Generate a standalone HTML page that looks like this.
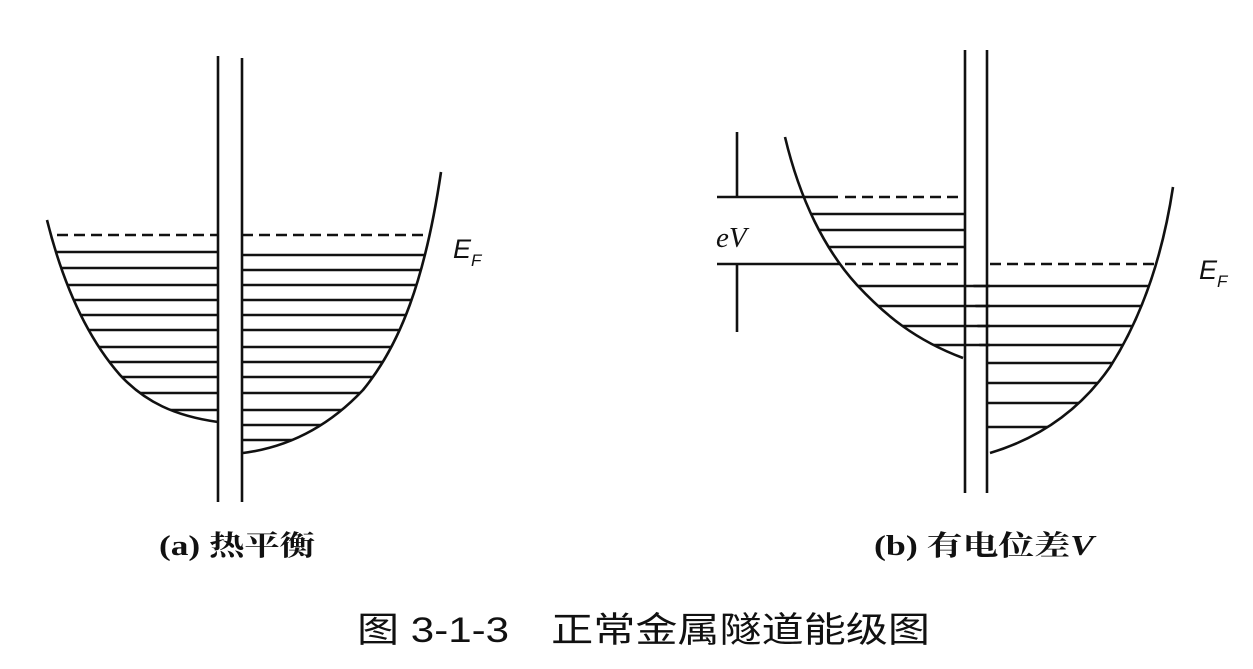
<!DOCTYPE html>
<html><head><meta charset="utf-8"><style>
html,body{margin:0;padding:0;background:#fff;}
svg{display:block;}
</style></head><body>
<svg width="1253" height="669" viewBox="0 0 1253 669" xmlns="http://www.w3.org/2000/svg">
<defs>
<clipPath id="aL"><path d="M47,220 C62,280 85,335 120,375 C145,402 175,416 218,422 L218,200 L40,200 Z"/></clipPath>
<clipPath id="aR"><path d="M243,453 C290,447 330,425 363,390 C400,345 425,280 441,172 L441,150 L243,150 Z"/></clipPath>
<clipPath id="bL"><path d="M785,137 C800,200 825,250 857,285 C885,315 915,340 963,358 L990,358 L990,100 L780,100 Z"/></clipPath>
<clipPath id="bR"><path d="M990,453 C1040,438 1080,410 1110,367 C1140,320 1162,260 1173,187 L1173,150 L960,150 Z"/></clipPath>
</defs>
<g stroke="#111" stroke-width="2.6" fill="none">
<line x1="218" y1="56" x2="218" y2="502"/>
<line x1="242" y1="58" x2="242" y2="502"/>
<path d="M47,220 C62,280 85,335 120,375 C145,402 175,416 218,422"/>
<path d="M243,453 C290,447 330,425 363,390 C400,345 425,280 441,172"/>
<g clip-path="url(#aL)">
<line x1="40" y1="235" x2="218" y2="235" stroke-dasharray="11,6"/>
<path d="M40,252H218M40,268H218M40,285H218M40,300H218M40,315H218M40,330H218M40,347H218M40,362H218M40,377H218M40,393H218M40,410H218"/>
</g>
<g clip-path="url(#aR)">
<line x1="242" y1="235" x2="445" y2="235" stroke-dasharray="11,6"/>
<path d="M242,255H445M242,270H445M242,285H445M242,300H445M242,315H445M242,330H445M242,347H445M242,362H445M242,377H445M242,393H445M242,410H445M242,425H445M242,440H445"/>
</g>
<line x1="965" y1="50" x2="965" y2="493"/>
<line x1="987" y1="50" x2="987" y2="493"/>
<path d="M785,137 C800,200 825,250 857,285 C885,315 915,340 963,358"/>
<path d="M990,453 C1040,438 1080,410 1110,367 C1140,320 1162,260 1173,187"/>
<line x1="737" y1="132" x2="737" y2="197"/>
<line x1="737" y1="264" x2="737" y2="332"/>
<line x1="717" y1="197" x2="838" y2="197"/>
<line x1="717" y1="264" x2="840" y2="264"/>
<line x1="845" y1="197" x2="965" y2="197" stroke-dasharray="11,6"/>
<line x1="845" y1="264" x2="965" y2="264" stroke-dasharray="11,6"/>
<g clip-path="url(#bL)">
<path d="M780,214H965M780,230H965M780,247H965M780,286H990M780,306H990M780,326H990M780,345H990"/>
</g>
<g clip-path="url(#bR)">
<line x1="990" y1="264" x2="1175" y2="264" stroke-dasharray="11,6"/>
<path d="M965,286H1175M965,306H1175M965,326H1175M965,345H1175M987,363H1175M987,383H1175M987,403H1175M987,427H1175"/>
</g>
</g>
<g fill="#111" font-family="Liberation Sans, sans-serif" font-style="italic">
<text x="453" y="258" font-size="27">E</text><text x="471" y="266" font-size="17">F</text>
<text x="1199" y="279" font-size="27">E</text><text x="1217" y="287" font-size="17">F</text>
</g>
<text x="716" y="247" font-size="29" fill="#111" font-style="italic" font-family="Liberation Serif, serif">eV</text>
<text x="159" y="555" font-size="28" font-weight="bold" fill="#111" font-family="Liberation Serif, 'Noto Serif CJK SC', serif" textLength="156" lengthAdjust="spacingAndGlyphs">(a) 热平衡</text>
<text x="874" y="555" font-size="28" font-weight="bold" fill="#111" font-family="Liberation Serif, 'Noto Serif CJK SC', serif" textLength="220" lengthAdjust="spacingAndGlyphs">(b) 有电位差<tspan font-style="italic">V</tspan></text>
<text x="357" y="642" font-size="35" fill="#111" font-family="Liberation Sans, 'Noto Sans CJK SC', sans-serif" textLength="573" lengthAdjust="spacingAndGlyphs">图 3-1-3　正常金属隧道能级图</text>
</svg>
</body></html>
